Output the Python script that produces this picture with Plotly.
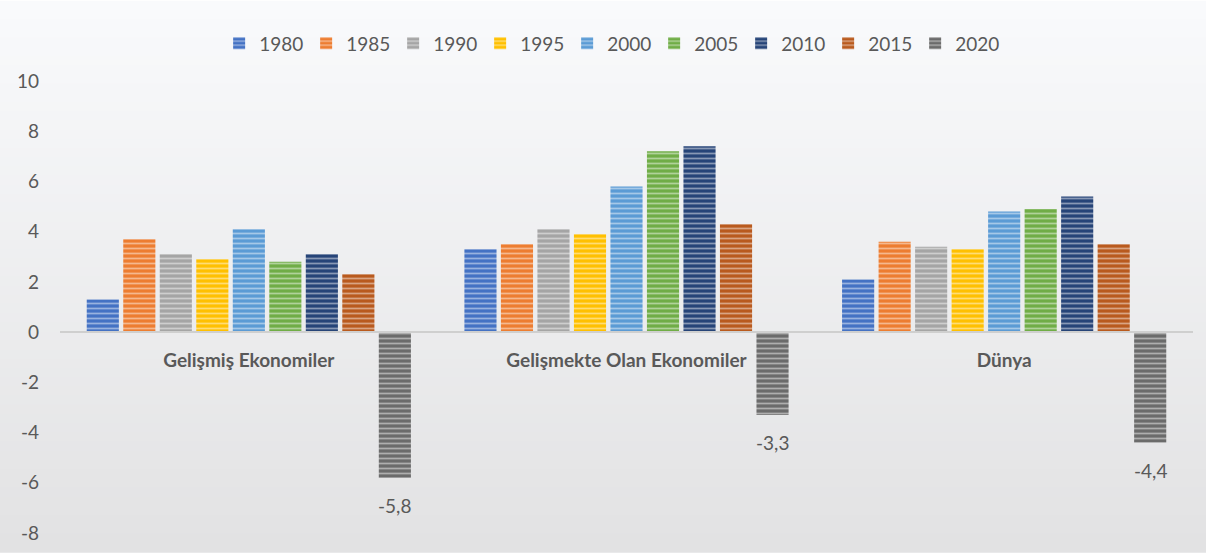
import plotly.graph_objects as go

# Economic groups on the category axis
groups = ["Gelişmiş Ekonomiler", "Gelişmekte Olan Ekonomiler", "Dünya"]

# Growth rates (%) per year, one list per year, in the order of `groups`
g1980 = [1.3, 3.3, 2.1]
g1985 = [3.7, 3.5, 3.6]
g1990 = [3.1, 4.1, 3.4]
g1995 = [2.9, 3.9, 3.3]
g2000 = [4.1, 5.8, 4.8]
g2005 = [2.8, 7.2, 4.9]
g2010 = [3.1, 7.4, 5.4]
g2015 = [2.3, 4.3, 3.5]
g2020 = [-5.8, -3.3, -4.4]

years = ["1980", "1985", "1990", "1995", "2000", "2005", "2010", "2015", "2020"]
series = [g1980, g1985, g1990, g1995, g2000, g2005, g2010, g2015, g2020]
colors = ["#4472C4", "#ED7D31", "#A5A5A5", "#FFC000", "#5B9BD5",
          "#70AD47", "#264478", "#B95A1E", "#6B6B6B"]

# y-axis ticks, written with a plain hyphen for negatives
yticks = [-8, -6, -4, -2, 0, 2, 4, 6, 8, 10]
yticktext = [str(v) for v in yticks]

TEXT = "#595959"
FONT = "Lato"

W, H = 1206, 556
ml, mr, mt, mb = 60, 13, 81, 19
BARGAP, GROUPGAP = 0.13, 0.12

fig = go.Figure()
for year, vals, col in zip(years, series, colors):
    fig.add_trace(go.Bar(
        name=year,
        x=groups,
        y=vals,
        marker=dict(
            color=col,
            line=dict(width=0),
            pattern=dict(shape="-", size=5, solidity=0.35,
                         fgcolor="white", fgopacity=0.45),
        ),
    ))

# Value labels under the 2020 bars; the horizontal shift places them on the
# last bar of each group (derived from the bar gap settings)
cat_w = (W - ml - mr) / len(groups)
slot = cat_w * (1 - BARGAP) / len(years)
shift_2020 = (len(years) - 1) / 2 * slot
annotations = []
for grp, v in zip(groups, g2020):
    annotations.append(dict(
        x=grp, y=v, xref="x", yref="y",
        text=f"{v:.1f}".replace(".", ","),
        showarrow=False, xanchor="center", yanchor="middle",
        xshift=shift_2020, yshift=-28,
        font=dict(family=FONT, size=19, color=TEXT),
    ))

# Soft vertical background gradient made of thin bands (paper coordinates
# extended past the plot area so it covers the whole page)
ph = H - mt - mb
top_p = 1 + mt / ph
bot_p = -mb / ph
c_top = (249, 250, 252)
c_bot = (226, 226, 227)
n = 60
shapes = []
for i in range(n):
    t = i / (n - 1)
    c = tuple(round(a + (b - a) * t) for a, b in zip(c_top, c_bot))
    y1 = top_p - (top_p - bot_p) * i / n
    y0 = top_p - (top_p - bot_p) * (i + 1) / n
    shapes.append(dict(
        type="rect", xref="paper", yref="paper",
        x0=-ml / (W - ml - mr) - 0.01, x1=1 + mr / (W - ml - mr) + 0.01,
        y0=y0 - 0.002, y1=y1,
        fillcolor="rgb(%d,%d,%d)" % c, line=dict(width=0), layer="below",
    ))

fig.update_layout(
    width=W, height=H,
    margin=dict(l=ml, r=mr, t=mt, b=mb),
    paper_bgcolor="white",
    plot_bgcolor="rgba(0,0,0,0)",
    barmode="group",
    bargap=BARGAP,
    bargroupgap=GROUPGAP,
    shapes=shapes,
    annotations=annotations,
    showlegend=True,
    legend=dict(
        orientation="h", x=0.486, xanchor="center",
        y=1 + (mt - 43) / ph, yanchor="middle",
        font=dict(family=FONT, size=19, color=TEXT),
        bgcolor="rgba(0,0,0,0)",
        entrywidth=42, entrywidthmode="pixels",
        itemwidth=30, traceorder="normal",
    ),
    xaxis=dict(
        type="category",
        anchor="free", position=8 / 18,
        showline=True, linecolor="#CFCFCF", linewidth=2,
        ticks="", showgrid=False, zeroline=False,
        tickfont=dict(family=FONT, size=19, color=TEXT, weight="bold"),
        ticklabelstandoff=11,
    ),
    yaxis=dict(
        range=[-8, 10],
        tickmode="array", tickvals=yticks, ticktext=yticktext,
        showgrid=False, zeroline=False, showline=False, ticks="",
        tickfont=dict(family=FONT, size=19, color=TEXT),
        ticklabelstandoff=20,
    ),
)

fig.write_html("out.html")
